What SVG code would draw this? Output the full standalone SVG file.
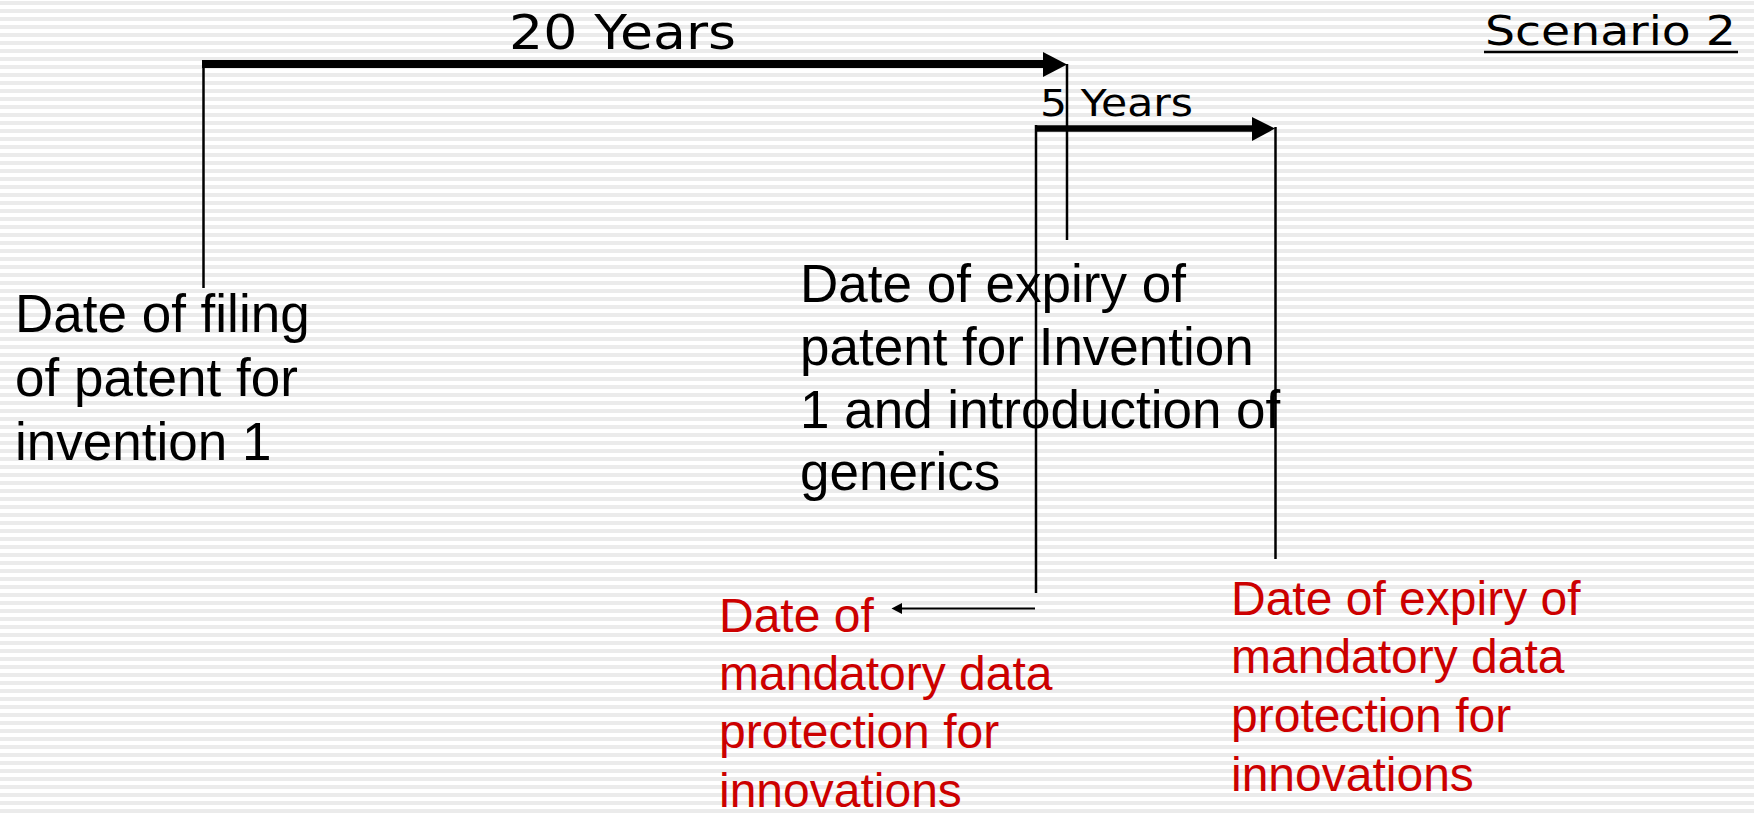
<svg xmlns="http://www.w3.org/2000/svg" width="1754" height="814" viewBox="0 0 1754 814">
<style>
.blk{font-family:"Liberation Sans",Arial,sans-serif;font-size:53px;fill:#000}
.red{font-family:"Liberation Sans",Arial,sans-serif;font-size:48px;fill:#cc0000}
.lbl{font-family:"DejaVu Sans",Verdana,sans-serif;fill:#000}
.thin{stroke:#000;stroke-width:2.5;fill:none}
</style>
<defs>
<pattern id="stripes" width="16" height="8" patternUnits="userSpaceOnUse">
<rect width="16" height="8" fill="#ffffff"/>
<rect y="1" width="16" height="4" fill="#ebebeb"/>
</pattern>
</defs>
<rect width="1754" height="814" fill="url(#stripes)"/>
<g id="connectors">
<line class="thin" x1="203.5" y1="60" x2="203.5" y2="288"/>
<line x1="202" y1="64" x2="1044" y2="64" stroke="#000" stroke-width="8"/>
<polygon points="1043,52 1067,64.5 1043,77"/>
<line class="thin" x1="1067" y1="64" x2="1067" y2="240"/>
<line class="thin" x1="1036" y1="125" x2="1036" y2="593"/>
<line x1="1035" y1="128.5" x2="1253" y2="128.5" stroke="#000" stroke-width="6.5"/>
<polygon points="1252,117 1275,128.5 1252,141"/>
<line class="thin" x1="1275.5" y1="127" x2="1275.5" y2="559"/>
<line x1="1035" y1="608.5" x2="900" y2="608.5" stroke="#000" stroke-width="2"/>
<polygon points="891.5,608.5 902,603 902,614"/>
</g>
<g id="label-20years">
<text class="lbl" x="509" y="49" font-size="48" textLength="227" lengthAdjust="spacingAndGlyphs">20 Years</text>
</g>
<g id="label-5years">
<text class="lbl" x="1040" y="116" font-size="38" textLength="153" lengthAdjust="spacingAndGlyphs">5 Years</text>
</g>
<g id="scenario">
<text class="lbl" x="1485" y="45" font-size="41" textLength="251" lengthAdjust="spacingAndGlyphs">Scenario 2</text>
<line x1="1484" y1="52" x2="1738" y2="52" stroke="#000" stroke-width="2.5"/>
</g>
<g id="node-filing">
<text class="blk" x="15" y="332">Date of filing</text>
<text class="blk" x="15" y="396">of patent for</text>
<text class="blk" x="15" y="460">invention 1</text>
</g>
<g id="node-expiry">
<text class="blk" x="800" y="302">Date of expiry of</text>
<text class="blk" x="800" y="365">patent for Invention</text>
<text class="blk" x="800" y="428">1 and introduction of</text>
<text class="blk" x="800" y="490">generics</text>
</g>
<g id="node-mandatory">
<text class="red" x="719" y="632">Date of</text>
<text class="red" x="719" y="690">mandatory data</text>
<text class="red" x="719" y="748">protection for</text>
<text class="red" x="719" y="807">innovations</text>
</g>
<g id="node-expiry-mandatory">
<text class="red" x="1231" y="615">Date of expiry of</text>
<text class="red" x="1231" y="673">mandatory data</text>
<text class="red" x="1231" y="732">protection for</text>
<text class="red" x="1231" y="791">innovations</text>
</g>
</svg>
